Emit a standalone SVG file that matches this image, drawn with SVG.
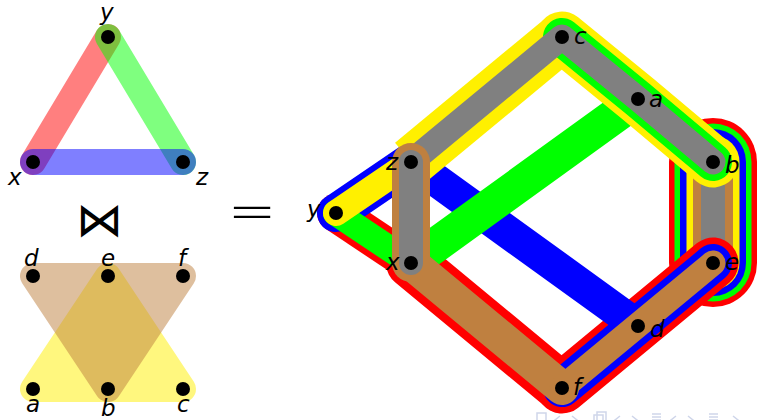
<svg xmlns="http://www.w3.org/2000/svg" width="758" height="420" viewBox="0 0 758 420">
<style>
.lbl{font-family:"DejaVu Sans",sans-serif;font-style:italic;font-size:23px;fill:#000}
.sym{font-family:"DejaVu Sans",sans-serif;font-weight:200;fill:#000}
.s{fill:none;stroke-linecap:round;stroke-linejoin:round}
.bt{fill:none;stroke-linecap:butt;stroke-linejoin:round}
.R{stroke:#FF0000}.G{stroke:#00FF00}.B{stroke:#0000FF}.Y{stroke:#FFF000}.N{stroke:#BF8040}.A{stroke:#808080}
.half{stroke-opacity:0.5}
.nav{fill:none;stroke:#cfd6ea;stroke-width:1.5}
</style>
<rect width="758" height="420" fill="#fff"/>

<!-- left top graph -->
<g id="H1-edges" class="s" stroke-width="26">
  <line class="R half" x1="33" y1="162" x2="108" y2="37"/>
  <line class="G half" x1="108" y1="37" x2="183" y2="162"/>
  <line class="B half" x1="33" y1="162" x2="183" y2="162"/>
</g>
<g id="H1-x"><circle cx="33" cy="162" r="7"/><text class="lbl" x="8" y="185">x</text></g>
<g id="H1-y"><circle cx="108" cy="37" r="7"/><text class="lbl" x="100" y="20">y</text></g>
<g id="H1-z"><circle cx="183" cy="162" r="7"/><text class="lbl" x="196" y="185">z</text></g>

<text class="sym" x="99" y="236" font-size="47" text-anchor="middle">⋈</text>

<!-- left bottom hypergraph -->
<g id="H2-edges" stroke-width="26" stroke-linejoin="round">
  <polygon points="33,389 183,389 108,276" fill="#FFF000" stroke="#FFF000" opacity="0.5"/>
  <polygon points="33,276 183,276 108,389" fill="#BF8040" stroke="#BF8040" opacity="0.5"/>
</g>
<g id="H2-d"><circle cx="33" cy="276" r="7"/><text class="lbl" x="24" y="266">d</text></g>
<g id="H2-e"><circle cx="108" cy="276" r="7"/><text class="lbl" x="101" y="266">e</text></g>
<g id="H2-f"><circle cx="183" cy="276" r="7"/><text class="lbl" x="178" y="266">f</text></g>
<g id="H2-a"><circle cx="33" cy="389" r="7"/><text class="lbl" x="26" y="412">a</text></g>
<g id="H2-b"><circle cx="108" cy="389" r="7"/><text class="lbl" x="101" y="416">b</text></g>
<g id="H2-c"><circle cx="183" cy="389" r="7"/><text class="lbl" x="177" y="412">c</text></g>

<text class="sym" x="252" y="231" font-size="58" text-anchor="middle">=</text>

<!-- right: joined hypergraph -->
<g id="connectors">
  <g id="stack-b-e" class="s">
    <line class="R" x1="713" y1="162" x2="713" y2="263" stroke-width="88"/>
    <line class="G" x1="713" y1="162" x2="713" y2="263" stroke-width="77"/>
    <line class="B" x1="713" y1="162" x2="713" y2="263" stroke-width="66"/>
    <line class="Y" x1="713" y1="162" x2="713" y2="263" stroke-width="53"/>
    <line class="N" x1="713" y1="162" x2="713" y2="263" stroke-width="40"/>
    <line class="A" x1="713" y1="162" x2="713" y2="263" stroke-width="24"/>
  </g>
  <g id="red" class="s R">
    <path d="M336,213 L411,263" stroke-width="38"/>
    <path d="M411,263 L562,388" stroke-width="50"/>
    <path d="M562,388 L713,263" stroke-width="51"/>
  </g>
  <g id="blue" class="s B">
    <path d="M336,213 L411,162" stroke-width="38"/>
    <path d="M411,162 L638,326" stroke-width="33"/>
    <path d="M562,388 L713,263" stroke-width="38"/>
  </g>
  <g id="green" class="s G">
    <path d="M336,213 L411,263" stroke-width="26"/>
    <path d="M411,263 L638,99" stroke-width="35"/>
  </g>
  <g id="yellow" class="s Y">
    <path d="M336,213 L411,162" stroke-width="26"/>
  </g>
  <g id="brown" class="s N">
    <path d="M411,263 L562,388" stroke-width="34"/>
    <path d="M562,388 L713,263" stroke-width="25"/>
  </g>
  <g id="stack-z-c-a-b">
    <path class="bt Y" d="M411,162 L562,37" stroke-width="50"/>
    <path class="s Y" d="M562,37 L638,99 L713,162" stroke-width="51"/>
    <path class="s G" d="M562,37 L638,99 L713,162" stroke-width="38"/>
    <path class="s A" d="M411,162 L562,37 L638,99 L713,162" stroke-width="25"/>
  </g>
  <g id="stack-z-x" class="s">
    <line class="N" x1="411" y1="162" x2="411" y2="263" stroke-width="38"/>
    <line class="A" x1="411" y1="162" x2="411" y2="263" stroke-width="24"/>
  </g>
</g>

<g id="J-c"><circle cx="562" cy="37" r="7"/><text class="lbl" x="574" y="44">c</text></g>
<g id="J-a"><circle cx="638" cy="99" r="7"/><text class="lbl" x="649" y="107">a</text></g>
<g id="J-b"><circle cx="713" cy="162" r="7"/><text class="lbl" x="725" y="173">b</text></g>
<g id="J-z"><circle cx="411" cy="162" r="7"/><text class="lbl" x="386" y="170">z</text></g>
<g id="J-y"><circle cx="336" cy="213" r="7"/><text class="lbl" x="307" y="217">y</text></g>
<g id="J-x"><circle cx="411" cy="263" r="7"/><text class="lbl" x="386" y="270">x</text></g>
<g id="J-e"><circle cx="713" cy="263" r="7"/><text class="lbl" x="725" y="270">e</text></g>
<g id="J-d"><circle cx="638" cy="326" r="7"/><text class="lbl" x="650" y="337">d</text></g>
<g id="J-f"><circle cx="562" cy="388" r="7"/><text class="lbl" x="573" y="395">f</text></g>

<!-- faint navigation symbols -->
<g id="nav" class="nav">
  <rect x="537" y="413" width="9" height="9"/>
  <path d="M560,416 l-5,4 l5,4"/>
  <path d="M572,416 l5,4 l-5,4"/>
  <rect x="594" y="415" width="9" height="9"/><rect x="597" y="412" width="9" height="9"/>
  <path d="M620,416 l-5,4 l5,4"/>
  <path d="M632,416 l5,4 l-5,4"/>
  <path d="M652,414 h9 M652,417 h9 M652,420 h9"/>
  <path d="M676,416 l-5,4 l5,4"/>
  <path d="M688,416 l5,4 l-5,4"/>
  <path d="M709,414 h9 M709,417 h9 M709,420 h9"/>
  <path d="M733,416 l5,4 l-5,4"/>
</g>
</svg>
